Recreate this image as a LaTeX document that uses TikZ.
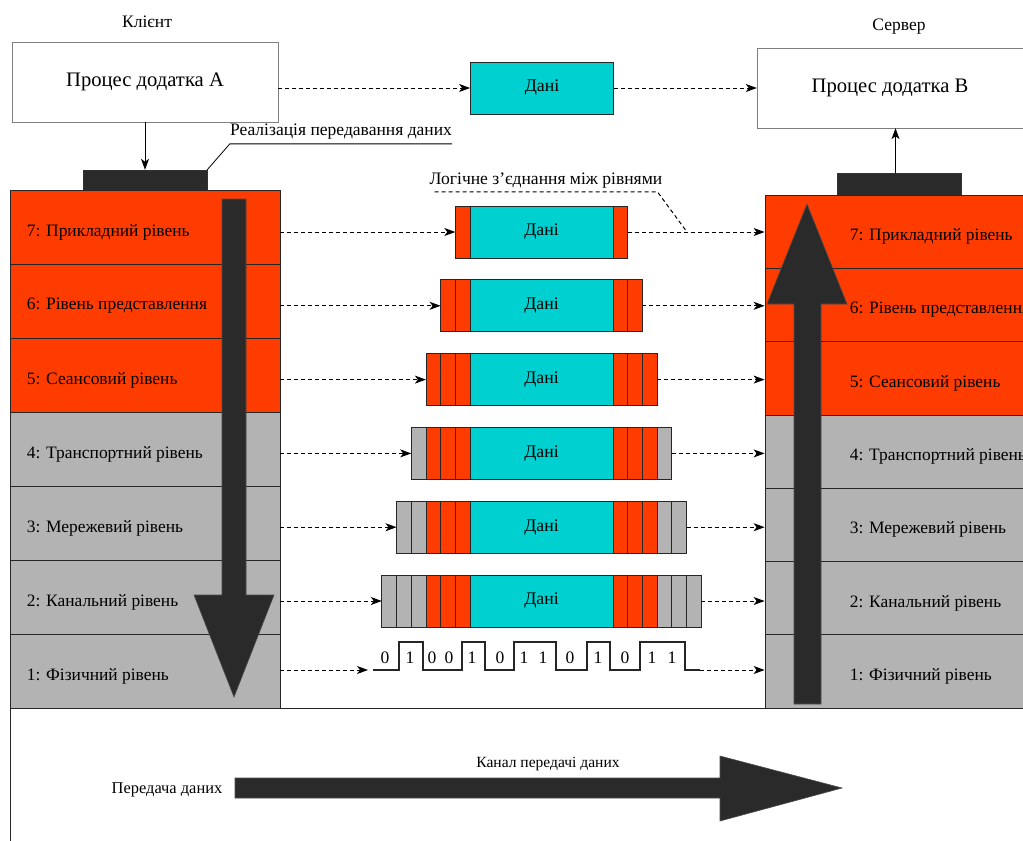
\documentclass[tikz,border=0pt]{standalone}
\usepackage{fontspec}
\setmainfont{Liberation Serif}
\usetikzlibrary{arrows.meta,positioning}

\definecolor{layred}{RGB}{255,60,0}
\definecolor{laygray}{RGB}{179,179,179}
\definecolor{datacyan}{RGB}{0,208,208}
\definecolor{bardark}{RGB}{42,42,42}

\tikzset{
  procbox/.style={draw=black!50, fill=white, minimum width=266bp, minimum height=80bp, inner sep=0pt, font=\fontsize{20.7}{24}\selectfont},
  layer/.style={draw=black!85, line width=0.8bp, minimum width=270bp, minimum height=74bp, inner sep=0pt},
  laytext/.style={inner sep=0pt, font=\fontsize{17.5}{21}\selectfont},
  datbox/.style={draw=black!85, line width=0.8bp, fill=datacyan, minimum width=143bp, minimum height=52bp, inner sep=0pt, font=\fontsize{17.8}{21}\selectfont},
  link/.style={dash pattern=on 4bp off 3bp, line width=1bp, -{Stealth[length=11bp,width=8bp,inset=3bp]}},
  bar/.style={fill=bardark, draw=black!80, minimum width=124bp, minimum height=21bp, inner sep=0pt},
  bigarrow/.style={fill=bardark, draw=black!70, line width=0.6bp},
  small/.style={inner sep=0pt, font=\fontsize{17.6}{21}\selectfont}
}

\begin{document}
\begin{tikzpicture}[x=1bp, y=-1bp]
\clip (0,0) rectangle (1023,841);
\fill[white] (0,0) rectangle (1023,841);

% application processes
\node[small] (client) at (147,22) {Клієнт};
\node[procbox] (procA) at (145,82) {Процес додатка А};
\node[small] (server) at (899,27) {Сервер};
\node[procbox] (procB) at (890,88) {Процес додатка В};
\node[datbox] (top) at (542,88) {Дані};
\draw[link] (procA.east |- top) -- (top.west);
\draw[link] (top.east) -- (procB.west);

% interface bars
\node[bar] (barL) at (145,180.5) {};
\node[bar, minimum height=22bp] (barR) at (899.5,184) {};
\draw[-{Stealth[length=11bp,width=8bp,inset=3bp]}, line width=1bp] (procA.south) -- (barL.north);
\draw[-{Stealth[length=11bp,width=8bp,inset=3bp]}, line width=1bp] ([xshift=-4bp]barR.north) -- ([xshift=-4bp]barR.north |- procB.south);

\node[small, inner ysep=4bp] (impl) at (341,132) {Реалізація передавання даних};
\draw[line width=0.8bp] (barL.north east) -- (impl.south west) -- (impl.south east);

% the two stacks
\foreach \i/\c/\t [count=\k from 0] in {7/layred/Прикладний рівень, 6/layred/Рівень представлення,
    5/layred/Сеансовий рівень, 4/laygray/Транспортний рівень, 3/laygray/Мережевий рівень,
    2/laygray/Канальний рівень, 1/laygray/Фізичний рівень} {
  \node[layer, fill=\c] (L\i) at (145,227+74*\k) {};
  \node[laytext, anchor=west] (Lt\i) at ([shift={(17,5)}]L\i.west) {\i: \t};
  \node[layer, fill=\c, minimum width=280bp, minimum height=73.3bp] (R\i) at (905,231.65+73.3*\k) {};
  \node[laytext, anchor=west] (Rt\i) at ([shift={(85,5)}]R\i.west) {\i: \t};
}

% down and up arrows
\filldraw[bigarrow] (222,199) -- (246,199) -- (246,595) -- (274,595) -- (234,697)
  -- (194,595) -- (222,595) -- cycle;
\filldraw[bigarrow] (794,704) -- (821,704) -- (821,304) -- (847,304) -- (807,204)
  -- (767,304) -- (794,304) -- cycle;

% encapsulated data
\foreach \i/\nr/\ng [count=\k from 0] in {7/1/0, 6/2/0, 5/3/0, 4/3/1, 3/3/2, 2/3/3} {
  \pgfmathsetmacro\y{232+73.8*\k}
  \pgfmathtruncatemacro\n{\nr+\ng}
  \foreach \j in {1,...,\n} {
    \ifnum\j>\nr \def\col{laygray}\else\def\col{layred}\fi
    \filldraw[fill=\col, draw=black!85, line width=0.8bp]
      (470-14.7*\j,\y-26) rectangle (470-14.7*\j+14.7,\y+26);
    \filldraw[fill=\col, draw=black!85, line width=0.8bp]
      (613+14.7*\j-14.7,\y-26) rectangle (613+14.7*\j,\y+26);
  }
  \node[datbox] (D\i) at (541.5,\y) {Дані};
  \coordinate (Pw\i) at (470-14.7*\n,\y);
  \coordinate (Pe\i) at (613+14.7*\n,\y);
  \draw[link] (L\i.east |- Pw\i) -- (Pw\i);
  \draw[link] (Pe\i) -- (R\i.west |- Pe\i);
}

% logical link label
\node[small] (logic) at (546,181) {Логічне з'єднання між рівнями};
\coordinate (logicEnd) at (687,232);
\draw[dash pattern=on 4bp off 3bp, line width=1bp] ([shift={(5,3)}]logic.south west)
  -- ([shift={(-5,3)}]logic.south east) -- (logicEnd);

% bit stream
\coordinate (sigA) at (373,670);
\coordinate (sigB) at (700,670);
\draw[line width=1.2bp, black!85] (sigA) -- (399,670) -- (399,642) -- (423,642) -- (423,670)
  -- (462,670) -- (462,642) -- (485,642) -- (485,670) -- (514,670) -- (514,642)
  -- (556,642) -- (556,670) -- (587,670) -- (587,642) -- (610,642) -- (610,670)
  -- (640,670) -- (640,642) -- (685,642) -- (685,670) -- (sigB);
\foreach \bx/\b [count=\n] in {385/0, 410/1, 432/0, 449/0, 472/1, 500/0, 524/1,
    543/1, 570/0, 598/1, 625/0, 652/1, 672/1}
  \node[small] (bit\n) at (\bx,658) {\b};
\draw[link] (L1.east |- sigA) -- ([xshift=-5bp]sigA);
\draw[link] (sigB) -- (R1.west |- sigB);

% channel
\coordinate (frameA) at (10,708);
\coordinate (frameB) at (10,841);
\coordinate (frameC) at (1023,708);
\draw[line width=0.8bp, black!85] (frameB) -- (frameA) -- (frameC);
\node[small, font=\fontsize{16.5}{19}\selectfont] (send) at (167,790) {Передача даних};
\node[small, font=\fontsize{15.6}{18}\selectfont] (chan) at (548,764) {Канал передачі даних};
\filldraw[bigarrow] (235,778) -- (720,778) -- (720,756) -- (842,788) -- (720,821)
  -- (720,798) -- (235,798) -- cycle;
\end{tikzpicture}
\end{document}
